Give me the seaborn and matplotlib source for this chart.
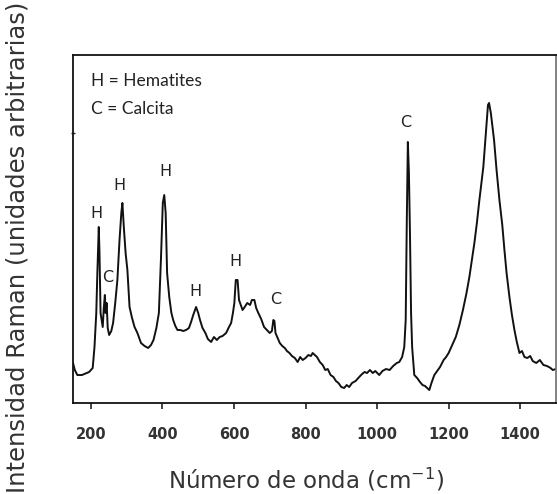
import numpy as np
import pandas as pd
import matplotlib
matplotlib.use("Agg")
import matplotlib.pyplot as plt
import seaborn as sns

# Raman shift (cm-1) and intensity (arbitrary units)
wavenumber = [150, 155, 162, 175, 195, 205, 210, 215, 218, 222, 224, 227, 230, 233, 236, 239, 241, 244, 247, 251,
              257, 262, 268, 274, 280, 285, 288, 292, 297, 302, 308, 315, 322, 330, 340, 350, 360, 368, 375, 383,
              390, 396, 401, 405, 409, 413, 419, 425, 430, 436, 442, 450, 458, 466, 474, 480, 486, 494, 500, 505,
              512, 520, 527, 536, 544, 552, 560, 568, 578, 586, 592, 597, 601, 605, 610, 614, 620, 624, 630, 637,
              645, 650, 657, 662, 668, 676, 684, 692, 700, 706, 710, 713, 716, 722, 728, 735, 742, 748, 755, 762,
              770, 778, 785, 792, 800, 808, 815, 820, 826, 832, 840, 848, 855, 862, 870, 878, 885, 892, 900, 908,
              915, 922, 930, 940, 950, 958, 965, 972, 980, 988, 995, 1006, 1015, 1025, 1035, 1045, 1055, 1062, 1070, 1076,
              1080, 1083, 1086, 1089, 1092, 1095, 1098, 1104, 1112, 1120, 1127, 1134, 1140, 1146, 1152, 1160, 1168, 1176, 1186, 1193,
              1200, 1210, 1220, 1230, 1240, 1250, 1258, 1265, 1272, 1279, 1286, 1297, 1304, 1310, 1313, 1318, 1327, 1334, 1342, 1350,
              1356, 1362, 1370, 1377, 1384, 1390, 1398, 1405, 1412, 1420, 1428, 1435, 1445, 1455, 1465, 1475, 1485, 1491, 1500]
intensity = [40, 33, 28, 28, 31, 35, 56, 90, 130, 176, 150, 90, 83, 76, 95, 108, 90, 100, 75, 68,
             72, 80, 100, 123, 163, 190, 200, 176, 150, 133, 96, 85, 76, 70, 60, 57, 55, 58, 63, 75,
             90, 146, 200, 208, 190, 130, 106, 90, 83, 77, 73, 73, 72, 73, 75, 81, 88, 96, 90, 83,
             75, 70, 64, 61, 66, 63, 66, 67, 70, 76, 80, 90, 100, 123, 123, 103, 97, 93, 96, 100,
             98, 103, 103, 95, 90, 84, 76, 73, 70, 72, 83, 82, 70, 65, 60, 57, 55, 52, 50, 47,
             45, 41, 46, 43, 45, 48, 47, 50, 48, 46, 41, 38, 33, 34, 28, 26, 22, 20, 16, 15,
             18, 16, 20, 22, 26, 29, 31, 30, 33, 30, 32, 28, 32, 34, 33, 37, 40, 41, 46, 56,
             83, 180, 261, 230, 168, 90, 56, 28, 25, 21, 18, 17, 15, 13, 20, 28, 32, 36, 43, 46,
             50, 58, 66, 78, 93, 110, 126, 143, 160, 180, 203, 236, 270, 298, 300, 290, 263, 233, 203, 178,
             153, 130, 106, 88, 73, 62, 50, 52, 46, 45, 47, 42, 40, 43, 38, 37, 35, 33, 34]

# Peak labels: letter, position (cm-1), label height (a.u.)
peak_letters = ["H", "C", "H", "H", "H", "H", "C", "C"]
peak_x = [216, 248, 279, 408, 492, 603, 716, 1081]
peak_y = [189, 125, 217, 231, 111, 141, 103, 280]

legend_lines = ["H = Hematites", "C = Calcita"]
xticks = [200, 400, 600, 800, 1000, 1200, 1400]

df = pd.DataFrame({"wn": wavenumber, "I": intensity})

sns.set_theme(style="white")
plt.rcParams["font.family"] = ["DejaVu Sans"]

fig = plt.figure(figsize=(5.57, 4.94), dpi=100)
ax = fig.add_axes([0.1311, 0.1842, 0.867, 0.7045])

sns.lineplot(data=df, x="wn", y="I", ax=ax, color="#111111", linewidth=1.4, sort=False)

ax.set_xlim(150, 1500)
ax.set_ylim(0, 348)
ax.set_xticks(xticks)
ax.set_xticklabels([str(t) for t in xticks], fontsize=10.5, fontweight="bold", color="#333333")
ax.set_yticks([270])
ax.set_yticklabels([""])
ax.tick_params(axis="x", direction="out", length=4, width=1.2, pad=13, color="#222222", bottom=True)
ax.tick_params(axis="y", direction="inout", length=3, width=1, left=True)
ax.set_xlabel("")
ax.set_ylabel("")

for side in ["left", "bottom", "top"]:
    ax.spines[side].set_color("#111111")
    ax.spines[side].set_linewidth(1.3)
ax.spines["right"].set_color("#777777")
ax.spines["right"].set_linewidth(1.3)

for letter, px, py in zip(peak_letters, peak_x, peak_y):
    ax.text(px, py, letter, ha="center", va="center", fontsize=11.5, color="#222222")

ax.text(200, 317, legend_lines[0], ha="left", va="baseline", fontsize=12.5, color="#222222",
        family=["Lato", "DejaVu Sans"])
ax.text(200, 289, legend_lines[1], ha="left", va="baseline", fontsize=12.5, color="#222222",
        family=["Lato", "DejaVu Sans"])

fig.text(306 / 557, 1 - 488 / 494, "Número de onda (cm$^{-1}$)", ha="center", va="baseline",
         fontsize=16.5, color="#333333")
fig.text(18 / 557, 1 - 247 / 494, "Intensidad Raman (unidades arbitrarias)", ha="center", va="center",
         rotation=90, fontsize=17.5, color="#333333")

fig.savefig("out.png", dpi=100)
